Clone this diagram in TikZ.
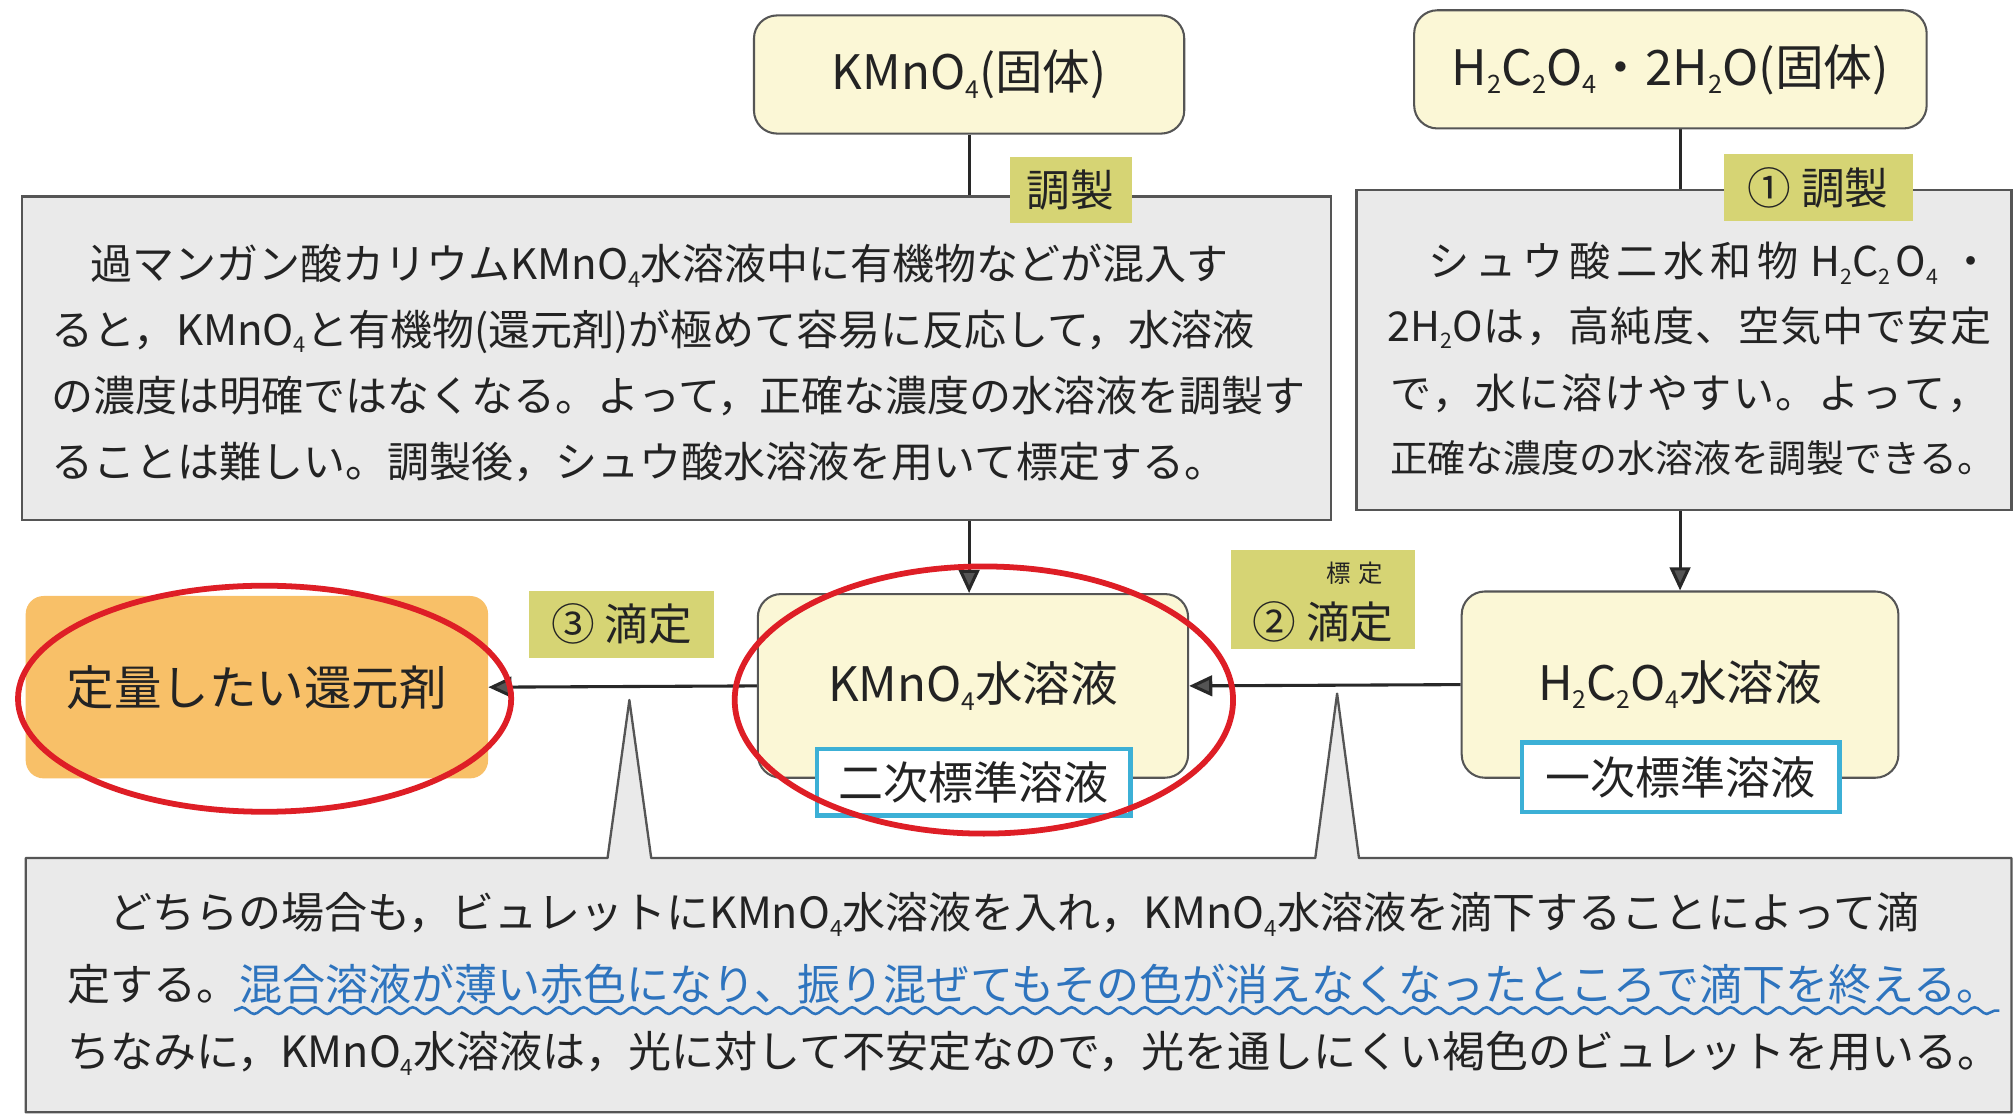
\documentclass[tikz,border=0pt]{standalone}
\usepackage{fontspec}
\setmainfont{Noto Sans CJK JP}
\usetikzlibrary{arrows.meta,decorations.pathmorphing,backgrounds}
\definecolor{creamfill}{RGB}{251,247,214}
\definecolor{boxline}{RGB}{85,85,85}
\definecolor{notefill}{RGB}{234,234,234}
\definecolor{tagfill}{RGB}{214,212,116}
\definecolor{orangefill}{RGB}{248,192,104}
\definecolor{cyanline}{RGB}{60,176,214}
\definecolor{redring}{RGB}{222,30,38}
\definecolor{bluetext}{RGB}{46,116,190}
\definecolor{textcol}{RGB}{35,35,35}
\definecolor{lineconn}{RGB}{40,40,40}
\makeatletter
\newcommand{\chsub}[1]{\raisebox{-0.18em}{\fontsize{\the\dimexpr\f@size pt*52/100\relax}{0pt}\selectfont #1}}
\makeatother
\newcommand{\jf}{\hfil}
\begin{document}
\begin{tikzpicture}[x=1pt,y=-1pt,
  solidbox/.style={draw=boxline, line width=1.6pt, fill=creamfill, rounded corners=18pt, inner sep=0pt, text=textcol},
  notebox/.style={draw=boxline, line width=1.8pt, fill=notefill, inner sep=0pt},
  tagbox/.style={fill=tagfill, inner sep=0pt, text=textcol, font=\fontsize{34}{40}\selectfont},
  stdbox/.style={draw=cyanline, line width=3.5pt, fill=white, inner sep=0pt, text=textcol, font=\fontsize{35}{40}\selectfont},
  conn/.style={draw=lineconn, line width=2.4pt},
  arr/.style={-{Triangle[length=18pt,width=16pt,fill=boxline]}},
  ring/.style={draw=redring, line width=4.5pt},
  ltext/.style={inner sep=0pt, anchor=west, text=textcol, font=\fontsize{32.7}{40}\selectfont},
  rtext/.style={inner sep=0pt, anchor=west, text=textcol, font=\fontsize{32}{40}\selectfont},
  btext/.style={inner sep=0pt, anchor=west, text=textcol, font=\fontsize{33.5}{40}\selectfont}]
\useasboundingbox (0,0) rectangle (1568,870);

% top solid boxes
\node[solidbox, minimum width=335pt, minimum height=92pt, font=\fontsize{37}{40}\selectfont] (kmsol) at (754.5,58) {KMnO\chsub{4}(固体)};
\node[solidbox, minimum width=399pt, minimum height=92pt, font=\fontsize{38}{40}\selectfont] (h2sol) at (1300.5,54) {H\chsub{2}C\chsub{2}O\chsub{4}・2H\chsub{2}O(固体)};

% note boxes
\node[notebox, minimum width=1019pt, minimum height=252pt] (noteL) at (526.5,279) {};
\node[notebox, minimum width=510pt, minimum height=249pt] (noteR) at (1311,272.5) {};

\node[ltext] (l1) at (70,207) {過マンガン酸カリウムKMnO\chsub{4}水溶液中に有機物などが混入す};
\node[ltext] (l2) at (40,258) {ると，KMnO\chsub{4}と有機物(還元剤)が極めて容易に反応して，水溶液};
\node[ltext] (l3) at (40,308) {の濃度は明確ではなくなる。よって，正確な濃度の水溶液を調製す};
\node[ltext] (l4) at (40,360) {ることは難しい。調製後，シュウ酸水溶液を用いて標定する。};

\node[rtext] (r1) at (1112,205) {\makebox[438pt][s]{シ\jf ュ\jf ウ\jf 酸\jf 二\jf 水\jf 和\jf 物\jf\jf H\chsub{2}C\chsub{2}\jf O\chsub{4}\jf\jf ・}};
\node[rtext] (r2) at (1080,255) {\makebox[470pt][s]{2H\chsub{2}O\jf は\jf ，\jf 高\jf 純\jf 度\jf 、\jf 空\jf 気\jf 中\jf で\jf 安\jf 定}};
\node[rtext] (r3) at (1082,306) {\makebox[466pt][s]{で\jf ，\jf 水\jf に\jf 溶\jf け\jf や\jf す\jf い\jf 。\jf よ\jf っ\jf て\jf ，}};
\node[rtext, font=\fontsize{29.5}{40}\selectfont] (r4) at (1082,357) {正確な濃度の水溶液を調製できる。};

% tags
\node[tagbox, minimum width=95pt, minimum height=52pt] (tagA) at (833.5,148) {調製};
\node[tagbox, minimum width=147pt, minimum height=52pt] (tagB) at (1415.5,146) {① 調製};
\node[tagbox, minimum width=144pt, minimum height=52pt] (tagC) at (484,486) {③ 滴定};
\node[tagbox, minimum width=144pt, minimum height=77pt] (tagD) at (1030,466.5) {};
\node[inner sep=0pt, text=textcol, font=\fontsize{19}{20}\selectfont] (tagDruby) at (1055,446) {標\hspace{6pt}定};
\node[inner sep=0pt, text=textcol, font=\fontsize{34}{40}\selectfont] (tagDtext) at (1030,484) {② 滴定};

% solution boxes
\node[fill=orangefill, rounded corners=14pt, minimum width=360pt, minimum height=142pt, inner sep=0pt, text=textcol, font=\fontsize{37}{44}\selectfont] (target) at (200,535) {定量したい還元剤};
\node[solidbox, minimum width=335pt, minimum height=143pt, font=\fontsize{37}{40}\selectfont] (kmaq) at (757.5,534) {KMnO\chsub{4}水溶液};
\node[stdbox, minimum width=244pt, minimum height=52pt] (kmstd) at (758,609) {二次標準溶液};
\node[solidbox, minimum width=340pt, minimum height=145pt, font=\fontsize{37}{40}\selectfont] (h2aq) at (1308,533) {H\chsub{2}C\chsub{2}O\chsub{4}水溶液};
\node[stdbox, minimum width=247pt, minimum height=54pt] (h2std) at (1308.5,605) {一次標準溶液};

% connectors
\begin{pgfonlayer}{background}
\fill[white] (0,0) rectangle (1568,870);
\draw[conn,arr] (kmsol.south) -- (kmsol.south |- kmaq.north);
\draw[conn,arr] (h2sol.south -| h2aq.north) -- (h2aq.north);
\draw[conn,arr] (h2aq.west) -- (kmaq.east);
\draw[conn,arr] (kmaq.west) -- (target.east);
\end{pgfonlayer}

% bottom callout
\draw[draw=boxline, line width=1.8pt, fill=notefill, line join=round]
  (20,668) -- (473,668) -- (490,545) -- (507,668) -- (1024,668) -- (1041,540) -- (1058,668)
  -- (1566,668) -- (1566,866) -- (20,866) -- cycle;
\node[btext] (b1) at (85,712) {どちらの場合も，ビュレットにKMnO\chsub{4}水溶液を入れ，KMnO\chsub{4}水溶液を滴下することによって滴};
\node[btext] (b2a) at (52,766) {定する。};
\node[btext, text=bluetext] (b2b) at (b2a.east) {混合溶液が薄い赤色になり、振り混ぜてもその色が消えなくなったところで滴下を終える。};
\node[btext] (b3) at (52,820) {ちなみに，KMnO\chsub{4}水溶液は，光に対して不安定なので，光を通しにくい褐色のビュレットを用いる。};
\draw[bluetext, line width=2pt, decorate, decoration={snake, segment length=19pt, amplitude=2.6pt}]
  ([xshift=-4pt,yshift=-5pt]b2b.south west) -- ([yshift=-5pt]b2b.south east);

% red rings
\draw[ring] (206,544) ellipse [x radius=192pt, y radius=88pt];
\draw[ring] (766,545) ellipse [x radius=194pt, y radius=104pt];
\end{tikzpicture}
\end{document}
